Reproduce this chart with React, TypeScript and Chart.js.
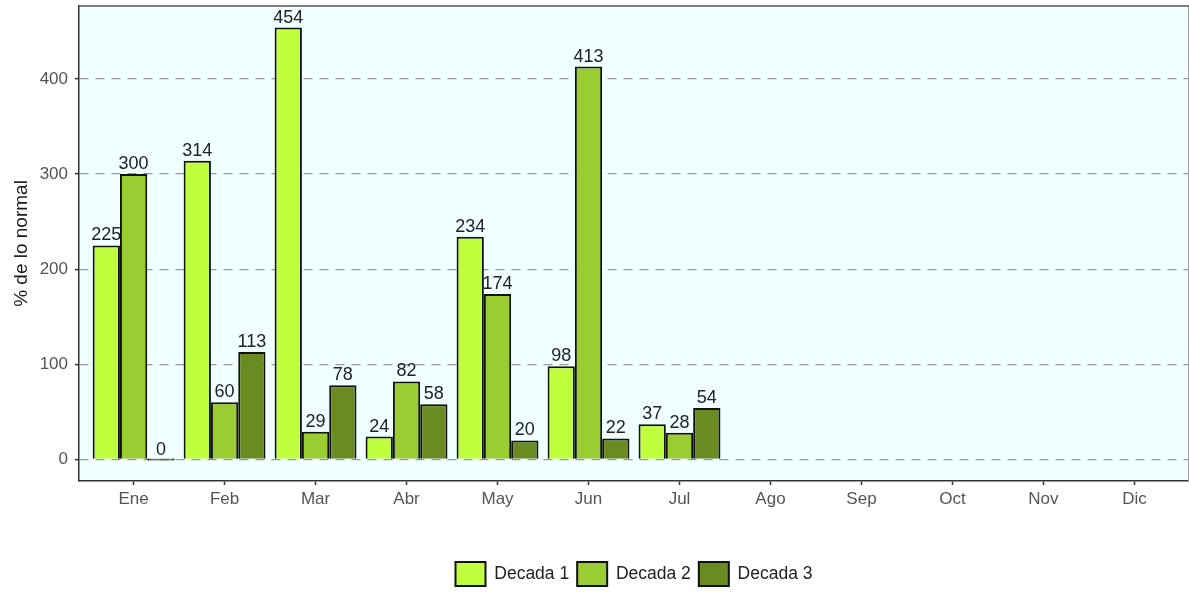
import React, { useEffect, useRef } from "react";
import { Chart, registerables } from "chart.js";

Chart.register(...registerables);

const months = ["Ene", "Feb", "Mar", "Abr", "May", "Jun", "Jul", "Ago", "Sep", "Oct", "Nov", "Dic"];
const seriesNames = ["Decada 1", "Decada 2", "Decada 3"];
const decada1 = [225, 314, 454, 24, 234, 98, 37];
const decada2 = [300, 60, 29, 82, 174, 413, 28];
const decada3 = [0, 113, 78, 58, 20, 22, 54];
const yTicks = [0, 100, 200, 300, 400];
const colors = ["#C0FF3E", "#9ACD32", "#698B22"];

const FONT = '"Liberation Sans", Arial, sans-serif';

const panelPlugin = {
  id: "panel",
  beforeDraw(chart: any) {
    const { ctx, chartArea: a } = chart;
    ctx.save();
    ctx.fillStyle = "#F0FFFF";
    ctx.fillRect(a.left, a.top, a.right - a.left, a.bottom - a.top);
    ctx.restore();
  },
  afterDraw(chart: any) {
    const { ctx, chartArea: a } = chart;
    ctx.save();
    ctx.strokeStyle = "#a0a0a0";
    ctx.lineWidth = 1;
    ctx.beginPath();
    ctx.moveTo(a.right - 0.5, a.top);
    ctx.lineTo(a.right - 0.5, a.bottom);
    ctx.stroke();
    ctx.strokeStyle = "#555";
    ctx.lineWidth = 1.5;
    ctx.beginPath();
    ctx.moveTo(a.left, a.top);
    ctx.lineTo(a.right, a.top);
    ctx.stroke();
    ctx.restore();
  },
};

const valueLabelPlugin = {
  id: "valueLabels",
  afterDatasetsDraw(chart: any) {
    const ctx = chart.ctx;
    ctx.save();
    ctx.font = `18px ${FONT}`;
    ctx.fillStyle = "#222";
    ctx.textAlign = "center";
    ctx.textBaseline = "alphabetic";
    chart.data.datasets.forEach((ds: any, di: number) => {
      const meta = chart.getDatasetMeta(di);
      meta.data.forEach((el: any, i: number) => {
        const v = ds.data[i].y;
        ctx.fillText(String(v), el.x, el.y - 5);
      });
    });
    ctx.restore();
  },
};

export default function App() {
  const ref = useRef<HTMLCanvasElement | null>(null);

  useEffect(() => {
    document.body.style.margin = "0";
    const canvas = ref.current;
    if (!canvas) return;
    const series = [decada1, decada2, decada3];
    const maxV = Math.max(...decada1, ...decada2, ...decada3);
    const chart = new Chart(canvas, {
      type: "bar",
      data: {
        datasets: series.map((vals, si) => ({
          label: seriesNames[si],
          data: vals.map((v, i) => ({ x: i, y: v })),
          backgroundColor: colors[si],
          borderColor: "#111",
          borderWidth: 2,
          categoryPercentage: 0.9,
          barPercentage: 1,
          minBarLength: 2,
        })),
      },
      options: {
        responsive: false,
        animation: false,
        events: [],
        layout: { padding: { top: 6, right: 0, bottom: -4, left: 0 } },
        plugins: {
          tooltip: { enabled: false },
          legend: {
            position: "bottom",
            fullSize: false,
            labels: {
              boxWidth: 30,
              boxHeight: 24,
              padding: 8,
              color: "#222",
              font: { family: FONT, size: 17.5 },
            },
          },
        },
        scales: {
          x: {
            type: "linear",
            min: -0.6,
            max: months.length - 0.4,
            offset: false,
            afterBuildTicks: (scale: any) => {
              scale.ticks = months.map((_, i) => ({ value: i }));
            },
            afterFit: (scale: any) => {
              scale.height = 73;
              scale.paddingLeft = 0;
              scale.paddingRight = 0;
            },
            ticks: {
              autoSkip: false,
              maxRotation: 0,
              padding: 4,
              color: "#555",
              font: { family: FONT, size: 17 },
              callback: (v: any) => months[v as number] ?? "",
            },
            grid: {
              offset: false,
              drawOnChartArea: false,
              drawTicks: true,
              tickLength: 4,
              tickColor: "#333",
              tickWidth: 1.5,
            },
            border: { display: true, color: "#333", width: 1.5 },
          },
          y: {
            min: -0.05 * maxV,
            max: 1.05 * maxV,
            afterBuildTicks: (scale: any) => {
              scale.ticks = yTicks.map((v) => ({ value: v }));
            },
            afterFit: (scale: any) => {
              scale.width = 79;
              scale.paddingTop = 0;
              scale.paddingBottom = 0;
            },
            title: {
              display: true,
              text: "% de lo normal",
              color: "#1a1a1a",
              font: { family: FONT, size: 19 },
              padding: { top: 10, bottom: 0 },
            },
            ticks: {
              padding: 7,
              color: "#555",
              font: { family: FONT, size: 17 },
            },
            grid: {
              color: "#999",
              lineWidth: 1.3,
              drawTicks: true,
              tickLength: 4,
              tickColor: "#333",
              tickWidth: 1.5,
              tickBorderDash: [],
            },
            border: { display: true, color: "#333", width: 1.5, dash: [9, 7] },
          },
        },
      },
      plugins: [panelPlugin, valueLabelPlugin],
    } as any);
    return () => chart.destroy();
  }, []);

  return <canvas ref={ref} width={1189} height={592} style={{ display: "block" }} />;
}
